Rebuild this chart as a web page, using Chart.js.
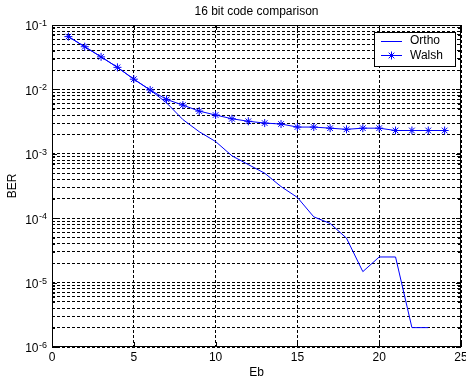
<!DOCTYPE html>
<html>
<head>
<meta charset="utf-8">
<script src="https://cdn.jsdelivr.net/npm/chart.js@4/dist/chart.umd.min.js"></script>
<style>
  html, body { margin:0; padding:0; background:#fff; }
  #wrap { width:466px; height:382px; }
</style>
</head>
<body>
<div id="wrap"><canvas id="berChart" width="466" height="382"></canvas></div>
<script>
// data
const eb = [1,2,3,4,5,6,7,8,9,10,11,12,13,14,15,16,17,18,19,20,21,22,23,24];
const orthoBer = [0.066,0.046,0.032,0.022,0.0144,0.0098,0.0062,0.0034,0.0022,0.00155,0.00093,0.00068,0.0005,
                  0.00031,0.00021,0.000105,0.000083,0.000049,0.0000148,0.000025,0.000025,0.000002,0.000002];
const walshBer = [0.066,0.046,0.032,0.022,0.0144,0.0098,0.0070,0.0057,0.0046,0.0040,0.0035,0.0032,0.0030,
                  0.0029,0.0026,0.0026,0.0025,0.0024,0.0025,0.0025,0.0023,0.0023,0.0023,0.0023];
const xTicks = [0,5,10,15,20,25];
const yDecades = [-6,-5,-4,-3,-2,-1];

const FONT = '"Liberation Sans", Arial, sans-serif';
const BLUE = 'rgb(0,0,255)';

// every 1..9 x 10^k between 1e-6 and 1e-1
const yTickVals = [];
yDecades.forEach(e => {
  for (let m = 1; m <= 9; m++) {
    if (e === -1 && m > 1) break;
    yTickVals.push(m * Math.pow(10, e));
  }
});

function drawStar(ctx, x, y, r) {
  const d = r * Math.SQRT1_2;
  ctx.beginPath();
  ctx.moveTo(x - r, y); ctx.lineTo(x + r, y);
  ctx.moveTo(x, y - r); ctx.lineTo(x, y + r);
  ctx.moveTo(x - d, y - d); ctx.lineTo(x + d, y + d);
  ctx.moveTo(x - d, y + d); ctx.lineTo(x + d, y - d);
  ctx.stroke();
}

const matlabBits = {
  id: 'matlabBits',
  afterDraw(chart) {
    const ctx = chart.ctx, a = chart.chartArea;
    const xs = chart.scales.x, ys = chart.scales.y;
    ctx.save();
    ctx.setLineDash([]);

    // box + inner tick marks
    ctx.strokeStyle = '#000';
    ctx.lineWidth = 1;
    ctx.strokeRect(Math.round(a.left) + 0.5, Math.round(a.top) + 0.5,
                   Math.round(a.right - a.left) - 1, Math.round(a.bottom - a.top) - 1);
    ctx.beginPath();
    xTicks.forEach(v => {
      const px = Math.round(xs.getPixelForValue(v)) + 0.5;
      ctx.moveTo(px, a.bottom); ctx.lineTo(px, a.bottom - 5);
      ctx.moveTo(px, a.top); ctx.lineTo(px, a.top + 5);
    });
    yTickVals.forEach(v => {
      const py = Math.round(ys.getPixelForValue(v)) + 0.5;
      const len = Number.isInteger(Math.log10(v)) ? 5 : 3;
      ctx.moveTo(a.left, py); ctx.lineTo(a.left + len, py);
      ctx.moveTo(a.right, py); ctx.lineTo(a.right - len, py);
    });
    ctx.stroke();

    ctx.fillStyle = '#000';
    // x tick labels
    ctx.font = '12px ' + FONT;
    ctx.textAlign = 'center';
    ctx.textBaseline = 'middle';
    xTicks.forEach(v => ctx.fillText(String(v), xs.getPixelForValue(v), 358));

    // y tick labels 10^k
    yDecades.forEach(e => {
      const py = ys.getPixelForValue(Math.pow(10, e));
      ctx.font = '12px ' + FONT;
      ctx.textAlign = 'right';
      ctx.textBaseline = 'middle';
      ctx.fillText('10', 38.5, py + 2);
      ctx.font = '9px ' + FONT;
      ctx.textAlign = 'left';
      ctx.textBaseline = 'alphabetic';
      ctx.fillText(String(e), 39, py + 1);
    });

    // title + axis labels
    ctx.font = '12px ' + FONT;
    ctx.textAlign = 'center';
    ctx.textBaseline = 'middle';
    ctx.fillText('16 bit code comparison', (a.left + a.right) / 2, 12);
    ctx.fillText('Eb', (a.left + a.right) / 2, 373);
    ctx.save();
    ctx.translate(13, (a.top + a.bottom) / 2);
    ctx.rotate(-Math.PI / 2);
    ctx.fillText('BER', 0, 0);
    ctx.restore();

    // legend
    const lx = 374.5, ly = 32.5, lw = 81, lh = 34;
    ctx.fillStyle = '#fff';
    ctx.fillRect(lx, ly, lw, lh);
    ctx.strokeStyle = '#000';
    ctx.strokeRect(lx, ly, lw, lh);
    ctx.fillStyle = BLUE;
    ctx.fillRect(381, 41, 21, 1);
    ctx.fillRect(381, 55, 21, 1);
    ctx.strokeStyle = BLUE;
    drawStar(ctx, 391.5, 55.5, 4);
    ctx.fillStyle = '#000';
    ctx.textAlign = 'left';
    ctx.fillText('Ortho', 410, 41);
    ctx.fillText('Walsh', 410, 55.5);

    ctx.restore();
  }
};

const ctx = document.getElementById('berChart').getContext('2d');
new Chart(ctx, {
  type: 'line',
  data: {
    datasets: [
      { label: 'Ortho', data: orthoBer.map((v, i) => ({ x: eb[i], y: v })),
        borderColor: BLUE, borderWidth: 1, pointRadius: 0, fill: false, tension: 0 },
      { label: 'Walsh', data: walshBer.map((v, i) => ({ x: eb[i], y: v })),
        borderColor: BLUE, borderWidth: 1, pointStyle: 'star', pointRadius: 4,
        pointBorderColor: BLUE, pointBorderWidth: 1, pointBackgroundColor: BLUE, fill: false, tension: 0 }
    ]
  },
  options: {
    responsive: false,
    animation: false,
    layout: { padding: { top: 25, right: 5, left: 0, bottom: 0 } },
    plugins: { legend: { display: false }, tooltip: { enabled: false }, title: { display: false } },
    scales: {
      x: {
        type: 'linear', min: 0, max: 25,
        afterBuildTicks: s => { s.ticks = xTicks.map(v => ({ value: v })); },
        afterFit: s => { s.height = 35; },
        ticks: { display: false },
        grid: { color: '#000', lineWidth: 1, drawTicks: false },
        border: { display: false, dash: [3, 2] }
      },
      y: {
        type: 'logarithmic', min: 1e-6, max: 1e-1,
        afterBuildTicks: s => { s.ticks = yTickVals.map(v => ({ value: v })); },
        afterFit: s => { s.width = 52; },
        ticks: { display: false },
        grid: { color: '#000', lineWidth: 1, drawTicks: false },
        border: { display: false, dash: [3, 2] }
      }
    }
  },
  plugins: [matlabBits]
});
</script>
</body>
</html>
